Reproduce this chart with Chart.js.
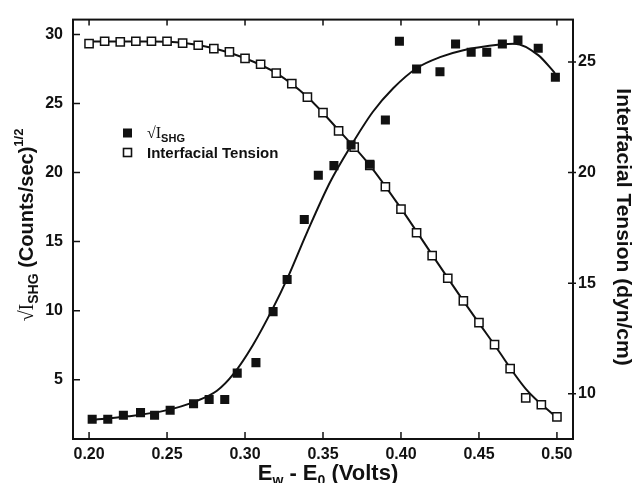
<!DOCTYPE html>
<html lang="en">
<head>
<meta charset="UTF-8">
<title>SHG and Interfacial Tension vs potential</title>
<script src="https://cdn.jsdelivr.net/npm/chart.js"></script>
<style>
  body { margin: 0; padding: 0; background: #fff; }
  #wrap { width: 634px; height: 483px; }
</style>
</head>
<body>
<div id="wrap"><canvas id="chart" width="634" height="483"></canvas></div>
<script>
// tick labels
const xTicks = [0.20, 0.25, 0.30, 0.35, 0.40, 0.45, 0.50];
const shgTicks = [5, 10, 15, 20, 25, 30];
const tensionTicks = [10, 15, 20, 25];

// sqrt(I_SHG) measurements (filled squares)
const shgX = [0.202, 0.212, 0.222, 0.233, 0.242, 0.252, 0.267, 0.277, 0.287, 0.295, 0.307, 0.318, 0.327, 0.338, 0.347,
              0.357, 0.368, 0.380, 0.390, 0.399, 0.410, 0.425, 0.435, 0.445, 0.455, 0.465, 0.475, 0.488, 0.499];
const shgY = [2.14, 2.14, 2.43, 2.62, 2.43, 2.79, 3.26, 3.57, 3.57, 5.48, 6.24, 9.93, 12.26, 16.6, 19.8,
              20.5, 22.0, 20.6, 23.8, 29.5, 27.5, 27.3, 29.3, 28.7, 28.7, 29.3, 29.6, 29.0, 26.9];

// interfacial tension measurements (open squares)
const tensionX = [0.20, 0.21, 0.22, 0.23, 0.24, 0.25, 0.26, 0.27, 0.28, 0.29, 0.30, 0.31, 0.32, 0.33, 0.34, 0.35,
                  0.36, 0.37, 0.38, 0.39, 0.40, 0.41, 0.42, 0.43, 0.44, 0.45, 0.46, 0.47, 0.48, 0.49, 0.50];
const tensionY = [25.83, 25.94, 25.91, 25.94, 25.94, 25.94, 25.86, 25.76, 25.61, 25.46, 25.17, 24.90, 24.50, 24.02, 23.41, 22.71,
                  21.89, 21.15, 20.33, 19.36, 18.35, 17.28, 16.24, 15.22, 14.20, 13.21, 12.22, 11.13, 9.81, 9.50, 8.95];

// fitted curves
const fitShgX = [0.20, 0.225, 0.25, 0.267, 0.282, 0.2925, 0.305, 0.318, 0.327, 0.3395, 0.3545, 0.368, 0.382, 0.395,
                 0.41, 0.425, 0.44, 0.4635, 0.473, 0.488, 0.4987];
const fitShgY = [2.07, 2.35, 2.8, 3.38, 4.2, 5.4, 7.5, 10.2, 12.3, 15.6, 19.3, 21.95, 24.4, 26.1,
                 27.55, 28.35, 28.85, 29.26, 29.33, 28.5, 27.2];
const fitTensionX = [0.20, 0.24, 0.26, 0.28, 0.30, 0.32, 0.34, 0.36, 0.38, 0.40, 0.42, 0.44, 0.46, 0.48, 0.50];
const fitTensionY = [25.93, 25.93, 25.87, 25.62, 25.17, 24.5, 23.42, 21.92, 20.33, 18.38, 16.28, 14.2, 12.2, 10.22, 8.9];

const pts = (xs, ys) => xs.map((x, i) => ({ x: x, y: ys[i] }));
const INK = '#111';
const SANS = '"Liberation Sans", Arial, Helvetica, sans-serif';
const SERIF = '"Liberation Serif", "Times New Roman", serif';
const tickFont = { family: SANS, size: 16, weight: 'bold' };

// draws a row of text pieces with different fonts / vertical offsets
function drawRuns(ctx, runs, x, y, align) {
  let w = 0;
  runs.forEach(r => { ctx.font = r.font; w += ctx.measureText(r.t).width; });
  let cx = align === 'center' ? x - w / 2 : x;
  ctx.textAlign = 'left';
  ctx.textBaseline = 'alphabetic';
  runs.forEach(r => {
    ctx.font = r.font;
    ctx.fillText(r.t, cx, y + (r.dy || 0));
    cx += ctx.measureText(r.t).width;
  });
}

const decor = {
  id: 'decor',
  afterDraw(chart) {
    const { ctx, chartArea: a, scales } = chart;
    ctx.save();
    ctx.strokeStyle = INK;
    ctx.fillStyle = INK;

    // frame
    ctx.lineWidth = 2;
    ctx.strokeRect(a.left, a.top, a.right - a.left, a.bottom - a.top);

    // inward ticks
    ctx.lineWidth = 1.5;
    ctx.beginPath();
    xTicks.forEach(v => {
      const px = scales.x.getPixelForValue(v);
      ctx.moveTo(px, a.bottom); ctx.lineTo(px, a.bottom - 7);
      ctx.moveTo(px, a.top); ctx.lineTo(px, a.top + 6);
    });
    shgTicks.forEach(v => {
      const py = scales.y.getPixelForValue(v);
      ctx.moveTo(a.left, py); ctx.lineTo(a.left + 7, py);
    });
    tensionTicks.forEach(v => {
      const py = scales.y2.getPixelForValue(v);
      ctx.moveTo(a.right + 3, py); ctx.lineTo(a.right - 5, py);
    });
    ctx.stroke();

    // legend
    ctx.fillRect(123, 128.5, 9, 9);
    ctx.fillStyle = '#fff';
    ctx.fillRect(123.5, 148.5, 8, 8);
    ctx.lineWidth = 1.6;
    ctx.strokeRect(123.5, 148.5, 8, 8);
    ctx.fillStyle = INK;
    drawRuns(ctx, [
      { t: '\u221A', font: '16px ' + SERIF },
      { t: 'I', font: '16px ' + SERIF },
      { t: 'SHG', font: 'bold 11px ' + SANS, dy: 4 }
    ], 147, 137.5);
    drawRuns(ctx, [{ t: 'Interfacial Tension', font: 'bold 15px ' + SANS }], 147, 158);

    // x axis title
    drawRuns(ctx, [
      { t: 'E', font: 'bold 22px ' + SANS },
      { t: 'w', font: 'bold 14px ' + SANS, dy: 5 },
      { t: ' - E', font: 'bold 22px ' + SANS },
      { t: '0', font: 'bold 14px ' + SANS, dy: 5 },
      { t: ' (Volts)', font: 'bold 22px ' + SANS }
    ], 328, 480, 'center');

    // left axis title
    ctx.save();
    ctx.translate(33, 225);
    ctx.rotate(-Math.PI / 2);
    drawRuns(ctx, [
      { t: '\u221A', font: '20px ' + SERIF },
      { t: 'I', font: '20px ' + SERIF },
      { t: 'SHG', font: 'bold 14px ' + SANS, dy: 5 },
      { t: ' (Counts/sec)', font: 'bold 20px ' + SANS },
      { t: '1/2', font: 'bold 13px ' + SANS, dy: -10 }
    ], 0, 0, 'center');
    ctx.restore();

    // right axis title
    ctx.save();
    ctx.translate(617, 227);
    ctx.rotate(Math.PI / 2);
    drawRuns(ctx, [{ t: 'Interfacial Tension (dyn/cm)', font: 'bold 21px ' + SANS }], 0, 0, 'center');
    ctx.restore();

    ctx.restore();
  }
};

new Chart(document.getElementById('chart'), {
  type: 'scatter',
  data: {
    datasets: [
      {
        label: 'sqrt I SHG',
        data: pts(shgX, shgY),
        yAxisID: 'y',
        pointStyle: 'rect',
        pointRadius: 6.4,
        pointBackgroundColor: INK,
        pointBorderColor: INK,
        pointBorderWidth: 0,
        showLine: false
      },
      {
        label: 'Interfacial Tension',
        data: pts(tensionX, tensionY),
        yAxisID: 'y2',
        pointStyle: 'rect',
        pointRadius: 5.8,
        pointBackgroundColor: '#fff',
        pointBorderColor: INK,
        pointBorderWidth: 1.5,
        showLine: false
      },
      {
        label: 'SHG fit',
        data: pts(fitShgX, fitShgY),
        yAxisID: 'y',
        showLine: true,
        pointRadius: 0,
        borderColor: INK,
        borderWidth: 2,
        cubicInterpolationMode: 'monotone'
      },
      {
        label: 'Tension fit',
        data: pts(fitTensionX, fitTensionY),
        yAxisID: 'y2',
        showLine: true,
        pointRadius: 0,
        borderColor: INK,
        borderWidth: 2,
        cubicInterpolationMode: 'monotone'
      }
    ]
  },
  options: {
    responsive: false,
    animation: false,
    devicePixelRatio: 1,
    layout: { padding: { top: 14, left: 0, right: 0, bottom: 0 } },
    plugins: { legend: { display: false }, tooltip: { enabled: false } },
    scales: {
      x: {
        type: 'linear', min: 0.1897, max: 0.5103,
        afterBuildTicks: s => { s.ticks = xTicks.map(v => ({ value: v })); },
        afterFit: s => { s.height = 44; },
        ticks: { callback: v => v.toFixed(2), font: tickFont, color: INK, padding: 6, maxRotation: 0, autoSkip: false },
        grid: { display: false, drawTicks: false },
        border: { display: false }
      },
      y: {
        type: 'linear', position: 'left', min: 0.71, max: 31.07,
        afterBuildTicks: s => { s.ticks = shgTicks.map(v => ({ value: v })); },
        afterFit: s => { s.width = 73; },
        ticks: { font: tickFont, color: INK, padding: 10 },
        grid: { display: false, drawTicks: false },
        border: { display: false }
      },
      y2: {
        type: 'linear', position: 'right', min: 7.95, max: 26.92,
        afterBuildTicks: s => { s.ticks = tensionTicks.map(v => ({ value: v })); },
        afterFit: s => { s.width = 61; },
        ticks: { font: tickFont, color: INK, padding: 5 },
        grid: { display: false, drawTicks: false },
        border: { display: false }
      }
    }
  },
  plugins: [decor]
});
</script>
</body>
</html>
